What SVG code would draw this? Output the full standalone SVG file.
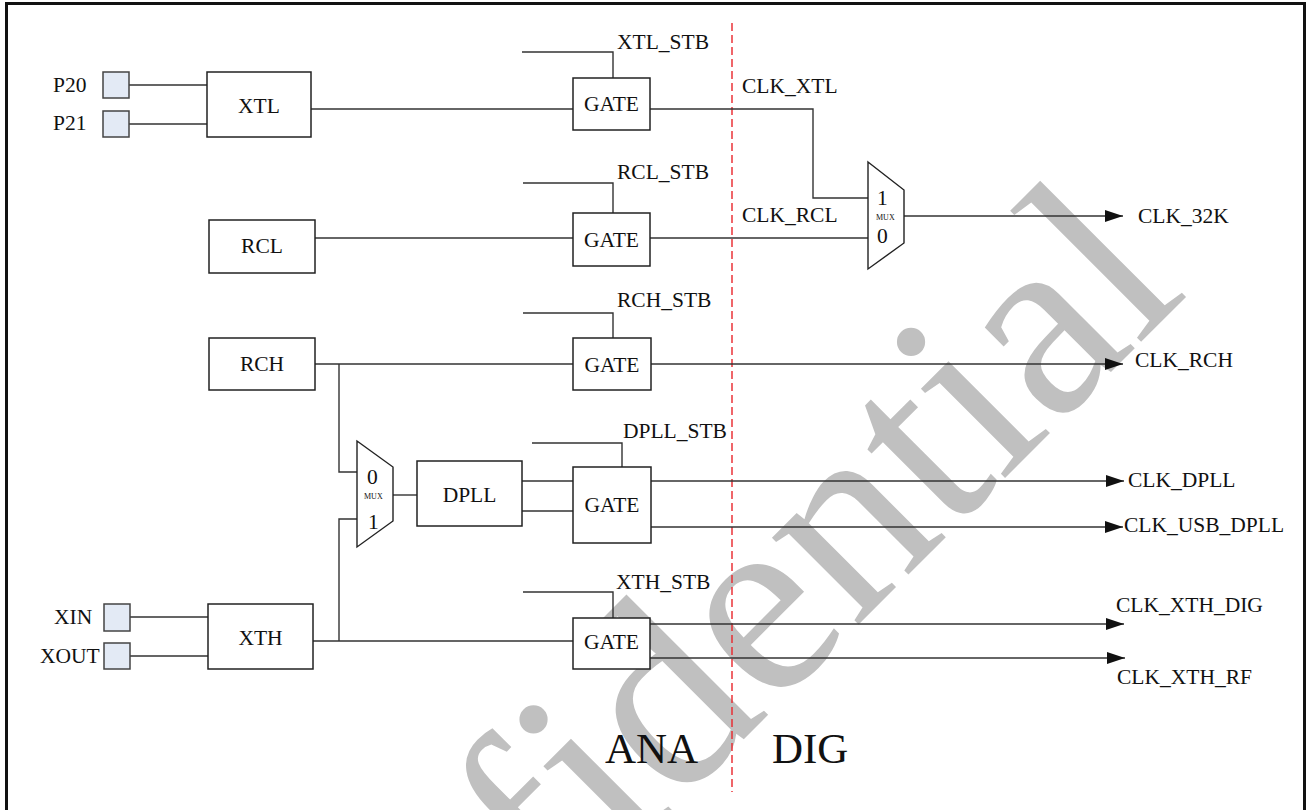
<svg xmlns="http://www.w3.org/2000/svg" width="1309" height="810" viewBox="0 0 1309 810">
<style>
text{font-family:"Liberation Serif","Times New Roman",serif;fill:#111}
.lbl{font-size:21.5px}
.mid{text-anchor:middle}
.box{fill:#fff;stroke:#222;stroke-width:1.5}
.pad{fill:#E3EAF5;stroke:#444;stroke-width:1.5}
.w{fill:none;stroke:#333;stroke-width:1.4}
.mux{fill:#fff;stroke:#222;stroke-width:1.4}
.small{font-size:8px}
.wm{font-size:267px;fill:#C0C0C0}
</style>
<defs>
<marker id="arr" markerWidth="18" markerHeight="12" refX="18" refY="6" orient="auto" markerUnits="userSpaceOnUse"><path d="M0,0 L18,6 L0,12 z" fill="#111"/></marker>
</defs>
<rect x="0" y="0" width="1309" height="810" fill="#fff"/>
<text class="wm" transform="translate(246,1237) rotate(-45)">Confidential</text>
<rect x="6.5" y="3.5" width="1298" height="820" fill="none" stroke="#111" stroke-width="3"/>
<line x1="732" y1="23" x2="732" y2="792" stroke="#E8262B" stroke-width="1.4" stroke-dasharray="8,4"/>
<g id="connectors">
<path class="w" d="M129,85H207M129,124H207"/>
<path class="w" d="M130,617H208M130,656H208"/>
<path class="w" d="M311,109H573"/>
<path class="w" d="M315,238H573"/>
<path class="w" d="M315,364H573M339,364V472H357"/>
<path class="w" d="M313,641H573M339,641V519H357"/>
<path class="w" d="M393,495H417"/>
<path class="w" d="M522,481H573M522,511H573"/>
<path class="w" d="M650,109H813V198H869"/>
<path class="w" d="M650,238H869"/>
<path class="w" d="M522,52H613V78"/>
<path class="w" d="M523,183H613V213"/>
<path class="w" d="M523,313H613V338"/>
<path class="w" d="M532,443H622V467"/>
<path class="w" d="M523,592H613V618"/>
<path class="w" d="M904,216H1123" marker-end="url(#arr)"/>
<path class="w" d="M651,364H1123" marker-end="url(#arr)"/>
<path class="w" d="M651,481H1124" marker-end="url(#arr)"/>
<path class="w" d="M651,527H1123" marker-end="url(#arr)"/>
<path class="w" d="M650,624H1124" marker-end="url(#arr)"/>
<path class="w" d="M650,658H1125" marker-end="url(#arr)"/>
</g>
<g id="p20"><rect class="pad" x="103" y="72" width="26" height="26"/><text class="lbl" x="53" y="92">P20</text></g>
<g id="p21"><rect class="pad" x="103" y="111" width="26" height="26"/><text class="lbl" x="53" y="130">P21</text></g>
<g id="xin"><rect class="pad" x="104" y="604" width="26" height="27"/><text class="lbl" x="54" y="624">XIN</text></g>
<g id="xout"><rect class="pad" x="104" y="643" width="26" height="26"/><text class="lbl" x="40" y="663">XOUT</text></g>
<g id="xtl"><rect class="box" x="207" y="72" width="104" height="65"/><text class="lbl mid" x="259" y="113">XTL</text></g>
<g id="rcl"><rect class="box" x="209" y="220" width="106" height="53"/><text class="lbl mid" x="262" y="253">RCL</text></g>
<g id="rch"><rect class="box" x="209" y="338" width="106" height="52"/><text class="lbl mid" x="262" y="371">RCH</text></g>
<g id="xth"><rect class="box" x="208" y="604" width="105" height="65"/><text class="lbl mid" x="260.5" y="645">XTH</text></g>
<g id="dpll"><rect class="box" x="417" y="461" width="105" height="65"/><text class="lbl mid" x="469.5" y="502">DPLL</text></g>
<g id="gate_xtl"><rect class="box" x="573" y="78" width="77" height="52"/><text class="lbl mid" x="611.5" y="111">GATE</text><text class="lbl" x="617" y="49">XTL_STB</text></g>
<g id="gate_rcl"><rect class="box" x="573" y="213" width="77" height="53"/><text class="lbl mid" x="611.5" y="247">GATE</text><text class="lbl" x="617" y="179">RCL_STB</text></g>
<g id="gate_rch"><rect class="box" x="573" y="338" width="78" height="52"/><text class="lbl mid" x="612" y="372">GATE</text><text class="lbl" x="617" y="307">RCH_STB</text></g>
<g id="gate_dpll"><rect class="box" x="573" y="467" width="78" height="76"/><text class="lbl mid" x="612" y="512">GATE</text><text class="lbl" x="623" y="438">DPLL_STB</text></g>
<g id="gate_xth"><rect class="box" x="573" y="618" width="77" height="51"/><text class="lbl mid" x="611.5" y="649">GATE</text><text class="lbl" x="616" y="589">XTH_STB</text></g>
<g id="mux32k"><polygon class="mux" points="868,162 904,190 904,243 868,269"/><text class="lbl" x="877" y="205">1</text><text class="small" x="876" y="220">MUX</text><text class="lbl" x="877" y="243">0</text></g>
<g id="muxdpll"><polygon class="mux" points="357,441 393,467 393,521 357,547"/><text class="lbl" x="367" y="484">0</text><text class="small" x="364" y="499">MUX</text><text class="lbl" x="368" y="529">1</text></g>
<g id="labels">
<text class="lbl" x="742" y="93">CLK_XTL</text>
<text class="lbl" x="742" y="222">CLK_RCL</text>
<text class="lbl" x="1138" y="223">CLK_32K</text>
<text class="lbl" x="1135" y="367">CLK_RCH</text>
<text class="lbl" x="1128" y="487">CLK_DPLL</text>
<text class="lbl" x="1124" y="532">CLK_USB_DPLL</text>
<text class="lbl" x="1116" y="612">CLK_XTH_DIG</text>
<text class="lbl" x="1117" y="684">CLK_XTH_RF</text>
<text x="605" y="763" font-size="43">ANA</text>
<text x="772" y="763" font-size="43">DIG</text>
</g>
</svg>
